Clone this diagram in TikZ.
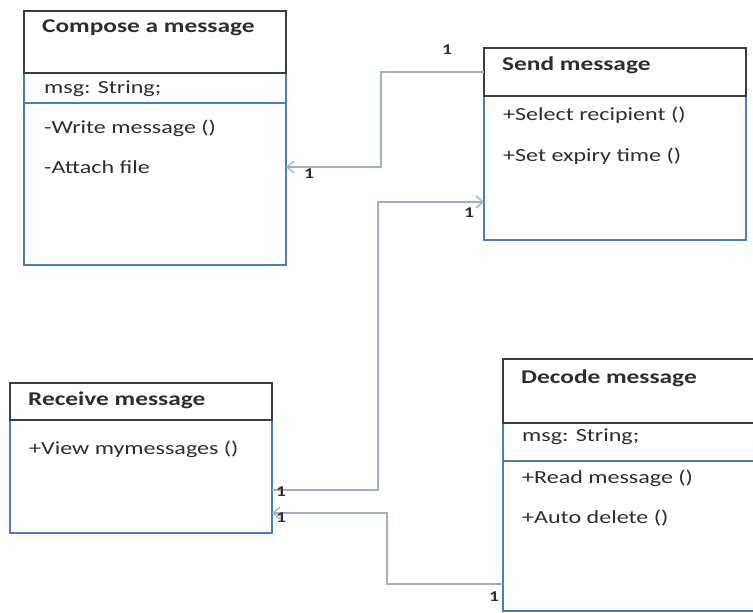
\documentclass[tikz,border=0pt]{standalone}
\usepackage{fontspec}
\setmainfont{Carlito}[FakeStretch=1.3]
\usetikzlibrary{arrows.meta}
\definecolor{hdrc}{HTML}{3C3C3C}
\definecolor{bodyc}{HTML}{4A7EBB}
\definecolor{linkc}{HTML}{9DB0C8}
\definecolor{txtc}{HTML}{2E2E2E}
\tikzset{
  hbox/.style={draw=hdrc, line width=2.4bp, fill=none, inner sep=0pt, outer sep=0pt, anchor=north west},
  bbox/.style={draw=bodyc, line width=2.4bp, fill=white, inner sep=0pt, outer sep=0pt, anchor=north west},
  htxt/.style={anchor=west, inner sep=0pt, text=txtc, font=\fontsize{19.5bp}{22bp}\selectfont\bfseries},
  btxt/.style={anchor=west, inner sep=0pt, text=txtc, font=\fontsize{18.5bp}{22bp}\selectfont},
  mult/.style={inner sep=0pt, text=txtc, font=\fontsize{15bp}{17bp}\selectfont\bfseries},
  link/.style={draw=linkc, line width=1.8bp},
  tip/.style={-{Straight Barb[length=7bp,width=12bp,line width=1.3bp]}}
}
\begin{document}
\begin{tikzpicture}[x=1bp,y=-1bp]
\useasboundingbox[fill=white] (0,0) rectangle (753,613);
% Compose a message
\node[bbox, minimum width=262bp, minimum height=192bp] (compB) at (24,73) {};
\node[bbox, minimum width=262bp, minimum height=30bp] (compA) at (24,73) {};
\node[hbox, minimum width=262bp, minimum height=62bp] (compH) at (24,11) {};
\node[htxt] (compT) at (42,28) {Compose a message};
\node[btxt] (compAt) at (44,89) {msg: String;};
\node[btxt] (compM1) at (44,128) {-Write message ()};
\node[btxt] (compM2) at (44,167) {-Attach file};
% Send message
\node[bbox, minimum width=262bp, minimum height=144bp] (sendB) at (484,96) {};
\node[hbox, minimum width=262bp, minimum height=48bp] (sendH) at (484,48) {};
\node[htxt] (sendT) at (502,65) {Send message};
\node[btxt] (sendM1) at (503,115) {+Select recipient ()};
\node[btxt] (sendM2) at (503,156) {+Set expiry time ()};
% Receive message
\node[bbox, minimum width=262bp, minimum height=113bp] (recB) at (10,420) {};
\node[hbox, minimum width=262bp, minimum height=37bp] (recH) at (10,383) {};
\node[htxt] (recT) at (28,400) {Receive message};
\node[btxt] (recM1) at (29,449) {+View mymessages ()};
% Decode message
\node[bbox, minimum width=262bp, minimum height=150bp] (decB) at (503,461) {};
\node[bbox, minimum width=262bp, minimum height=38bp] (decA) at (503,423) {};
\node[hbox, minimum width=262bp, minimum height=64bp] (decH) at (503,359) {};
\node[htxt] (decT) at (521,378) {Decode message};
\node[btxt] (decAt) at (522,437) {msg: String;};
\node[btxt] (decM1) at (522,478) {+Read message ()};
\node[btxt] (decM2) at (522,518) {+Auto delete ()};
% connectors
\draw[link, tip] (sendH.west) -- ++(-103,0) |- ([yshift=2bp]compB.east);
\draw[link, tip] ([yshift=-13.5bp]recB.east) -- ++(106,0) |- ([yshift=-34bp]sendB.west);
\draw[link, tip] ([yshift=-48bp]decB.west) -- ++(-116,0) |- ([yshift=-36.5bp]recB.east);
% multiplicities
\node[mult] (m1) at (447,50) {1};
\node[mult] (m2) at (309,174) {1};
\node[mult] (m3) at (281,492) {1};
\node[mult] (m4) at (469,213) {1};
\node[mult] (m5) at (281,518) {1};
\node[mult] (m6) at (494,597) {1};
\end{tikzpicture}
\end{document}
